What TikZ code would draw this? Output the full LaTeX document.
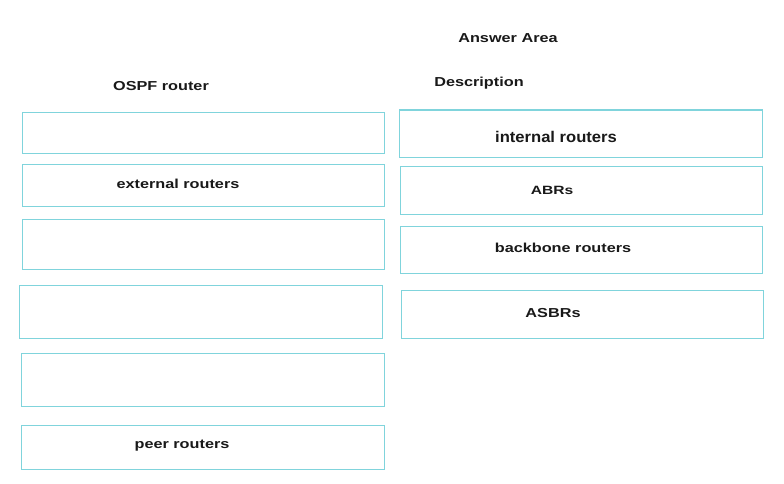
\documentclass[tikz,border=0pt]{standalone}
\usepackage{fontspec}
\setmainfont{Liberation Sans}
\definecolor{boxcyan}{RGB}{128,212,220}
\begin{document}
\begin{tikzpicture}[x=1pt,y=-1pt,
  box/.style={draw=boxcyan, line width=1.3pt, fill=white, anchor=north west, inner sep=0pt},
  lbl/.style={font=\bfseries\fontsize{13}{15}\selectfont, text=black!90, inner sep=0pt, xscale=1.25}]
\useasboundingbox[fill=white] (0,0) rectangle (784,484);
% left column
\node[box, minimum width=362pt, minimum height=41pt] (l1) at (22,112) {};
\node[box, minimum width=362pt, minimum height=42pt] (l2) at (22,164) {};
\node[box, minimum width=362pt, minimum height=50pt] (l3) at (22,219) {};
\node[box, minimum width=363pt, minimum height=53pt] (l4) at (19,285) {};
\node[box, minimum width=363pt, minimum height=53pt] (l5) at (21,353) {};
\node[box, minimum width=363pt, minimum height=44pt] (l6) at (21,425) {};
% right column
\node[box, minimum width=363pt, minimum height=47pt] (r1) at (399,110) {};
\draw[boxcyan, line width=2.4pt] (r1.north west) -- (r1.north east);
\node[box, minimum width=362pt, minimum height=48pt] (r2) at (400,166) {};
\node[box, minimum width=362pt, minimum height=47pt] (r3) at (400,226) {};
\node[box, minimum width=362pt, minimum height=48pt] (r4) at (401,290) {};
% texts
\node[lbl] (aa) at (508,38) {Answer Area};
\node[lbl] (desc) at (479,83) {Description};
\node[lbl] (ospf) at (161,86) {OSPF router};
\node[lbl] (ext) at (178,184) {external routers};
\node[lbl] (peer) at (182,446) {peer routers};
\node[lbl, font=\bfseries\fontsize{15.5}{17}\selectfont, xscale=1.07/1.25] (int) at (556,137) {internal routers};
\node[lbl, font=\bfseries\fontsize{12}{14}\selectfont, xscale=1.3/1.25] (abr) at (552,190) {ABRs};
\node[lbl] (bb) at (563,248) {backbone routers};
\node[lbl] (asbr) at (553,313) {ASBRs};
\end{tikzpicture}
\end{document}
